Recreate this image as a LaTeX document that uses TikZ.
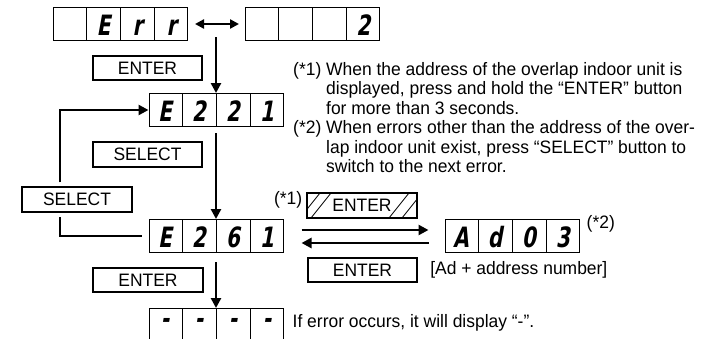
\documentclass[tikz,border=0pt]{standalone}
\usepackage{fontspec}
\setmainfont{Liberation Sans}[FakeStretch=0.97]
\newfontfamily\segfont{DejaVu Sans}[FakeStretch=0.72,FakeSlant=0.18]
\usetikzlibrary{arrows.meta,positioning}

\tikzset{
  panel/.style={draw, line width=1pt, minimum width=134pt, minimum height=33pt, inner sep=0pt},
  digit/.style={font=\segfont\bfseries\fontsize{28}{28}\selectfont, inner sep=0pt, anchor=base},
  key/.style={draw, line width=1.6pt, minimum width=109.5pt, minimum height=24.5pt, inner sep=0pt,
    font=\fontsize{18}{19.5}\selectfont},
  note/.style={inner sep=0pt, font=\fontsize{18}{19.5}\selectfont},
  flow/.style={-{Triangle[length=10pt,width=10pt]}, line width=2.6pt},
  twoway/.style={{Triangle[length=9pt,width=9pt]}-{Triangle[length=9pt,width=9pt]}, line width=2.6pt},
  wire/.style={line width=2.6pt}
}

\begin{document}
\begin{tikzpicture}[x=1pt,y=-1pt]
  \useasboundingbox (0,0) rectangle (705,338);
  % displays
  \node[panel] (err) at (120.5,24) {};
  \node[panel] (two) at (312.5,24) {};
  \node[panel] (e221) at (216,110) {};
  \node[panel] (e261) at (216,236) {};
  \node[panel] (ad03) at (512,236) {};
  \node[panel] (dash) at (216,325) {};
  \foreach \d/\v/\a/\b/\c/\e in {err/11/{}/E/r/r, two/11/{}/{}/{}/2, e221/11/E/2/2/1,
      e261/11/E/2/6/1, ad03/11/A/d/0/3, dash/3/-/-/-/-} {
    \foreach \s in {-34,0,34}
      \draw[line width=1pt] ([xshift=\s pt]\d.north) -- ([xshift=\s pt]\d.south);
    \node[digit] at ([xshift=-51pt,yshift=-\v pt]\d.center) {\a};
    \node[digit] at ([xshift=-17pt,yshift=-\v pt]\d.center) {\b};
    \node[digit] at ([xshift=17pt,yshift=-\v pt]\d.center) {\c};
    \node[digit] at ([xshift=51pt,yshift=-\v pt]\d.center) {\e};
  }

  % buttons
  \node[key] (enterA) at (147.5,68) {ENTER};
  \node[key] (selA) at (147.5,154.5) {SELECT};
  \node[key] (selL) at (77,199.5) {SELECT};
  \node[key] (enterB) at (148,280) {ENTER};
  \node[key] (enterH) at (362,205.5) {ENTER};
  \node[key] (enterR) at (362.5,270) {ENTER};
  \begin{scope}
    \clip (enterH.south west) rectangle (enterH.north east);
    \foreach \b in {300,311,389,402}
      \draw[line width=0.8pt] (\b,218) -- ++(20,-25);
  \end{scope}

  % labels
  \node[note, anchor=east] (mark1) at ([xshift=-4pt,yshift=6pt]enterH.west) {(*1)};
  \node[note, anchor=west] (mark2) at ([xshift=7pt,yshift=-5pt]ad03.north east) {(*2)};
  \node[note, right=12pt of enterR] (adnote) {[Ad + address number]};
  \node[note, right=9pt of dash, yshift=2pt] (dashnote) {If error occurs, it will display “-”.};
  \node[note, anchor=base west] (notes) at (293,75) {\begin{tabular}[t]{@{}l@{\ }l@{}}
    (*1) & When the address of the overlap indoor unit is\\
         & displayed, press and hold the “ENTER” button\\
         & for more than 3 seconds.\\
    (*2) & When errors other than the address of the over-\\
         & lap indoor unit exist, press “SELECT” button to\\
         & switch to the next error.
  \end{tabular}};

  % arrows
  \coordinate (fork) at (216,37);
  \coordinate (rail) at (60,0);
  \draw[twoway, shorten <=7pt, shorten >=6pt] (err.east) -- (two.west);
  \draw[flow] (fork) -- (e221.north);
  \draw[flow, shorten <=6pt] (e221.south) -- (e261.north);
  \draw[flow, shorten <=9pt] (e261.south) -- (dash.north);
  \draw[flow, shorten <=18pt, shorten >=16pt] ([yshift=6pt]e261.east) -- ([yshift=6pt]ad03.west);
  \draw[flow, shorten <=16pt, shorten >=18pt] ([yshift=-7pt]ad03.west) -- ([yshift=-7pt]e261.east);
  \draw[wire, shorten <=7pt, shorten >=4pt] (e261.west) -| (selL.south -| rail);
  \draw[flow, shorten <=4pt] (selL.north -| rail) |- (e221.west);
\end{tikzpicture}
\end{document}
